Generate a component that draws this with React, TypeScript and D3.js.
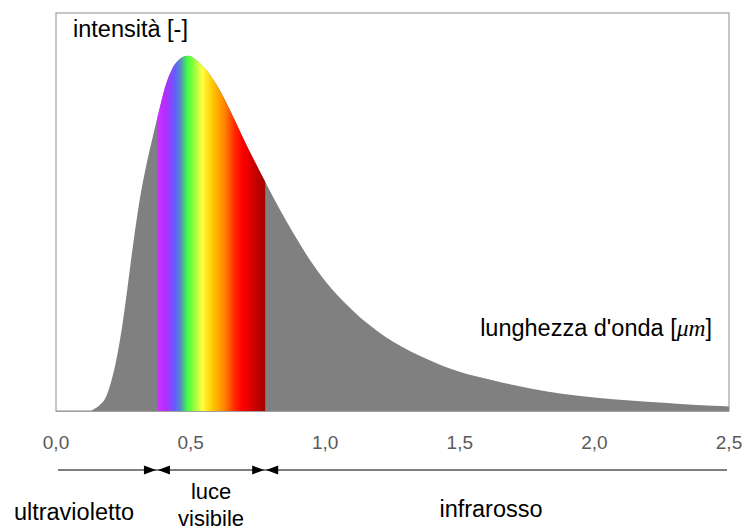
import React from "react";
import * as d3 from "d3";

// wavelength [µm]
const wavelengths = [
  0.0, 0.13, 0.14, 0.16, 0.186, 0.204, 0.223, 0.248, 0.266, 0.285, 0.31, 0.335,
  0.359, 0.378, 0.409, 0.446, 0.489, 0.533, 0.595, 0.644, 0.694, 0.743, 0.777,
  0.833, 0.882, 0.944, 1.006, 1.068, 1.13, 1.192, 1.254, 1.316, 1.378, 1.44,
  1.502, 1.564, 1.626, 1.7, 1.824, 1.948, 2.07, 2.196, 2.32, 2.44, 2.5,
];
// relative intensity [%]
const intensities = [
  0, 0, 0.5, 1.5, 4, 8, 14, 25, 35, 46, 59, 69, 77, 83, 92, 98, 100, 98, 92, 85,
  77, 69.5, 64.5, 56.5, 50, 42.4, 36, 30.8, 26.3, 22.6, 19.4, 16.8, 14.6, 12.6,
  11, 9.7, 8.6, 7.3, 5.5, 4.2, 3.3, 2.6, 2.0, 1.5, 1.3,
];
const xTicks = [0, 0.5, 1.0, 1.5, 2.0, 2.5];
const visibleRange = [0.375, 0.777];
const spectrumStops = [
  { offset: 0, color: "#cc33ff" },
  { offset: 0.08, color: "#b32cff" },
  { offset: 0.17, color: "#6060ff" },
  { offset: 0.22, color: "#5590c0" },
  { offset: 0.28, color: "#40ff40" },
  { offset: 0.34, color: "#90ff40" },
  { offset: 0.42, color: "#ffff40" },
  { offset: 0.52, color: "#ffc400" },
  { offset: 0.63, color: "#ff8000" },
  { offset: 0.72, color: "#ff2800" },
  { offset: 0.79, color: "#ff0000" },
  { offset: 0.9, color: "#cc0000" },
  { offset: 1, color: "#a00000" },
];
const regionLabels = ["ultravioletto", "luce", "visibile", "infrarosso"];

export default function App() {
  const W = 745;
  const H = 531;
  const x = d3.scaleLinear().domain([0, 2.5]).range([56, 729]);
  const y = d3.scaleLinear().domain([0, 112]).range([411, 13]);
  const data = wavelengths.map((w, i) => ({ w, v: intensities[i] }));
  const area = d3
    .area<{ w: number; v: number }>()
    .x((d) => x(d.w))
    .y0(y(0))
    .y1((d) => y(d.v))
    .curve(d3.curveMonotoneX);
  const areaPath = area(data) || "";
  const fmt = (v: number) => d3.format(".1f")(v).replace(".", ",");
  const font = "Arial, 'Liberation Sans', sans-serif";
  const xa = x(visibleRange[0]);
  const xb = x(visibleRange[1]);
  const ay = 470;
  const tri = (tip: number, dir: number) =>
    `M${tip},${ay} L${tip - dir * 12},${ay - 4.5} L${tip - dir * 12},${ay + 4.5} Z`;

  return (
    <div style={{ position: "absolute", left: 0, top: 0 }}>
      <svg width={W} height={H} style={{ display: "block", background: "#fff" }}>
        <defs>
          <clipPath id="curveClip">
            <path d={areaPath} />
          </clipPath>
          <linearGradient
            id="spectrum"
            gradientUnits="userSpaceOnUse"
            x1={xa}
            x2={xb}
            y1={0}
            y2={0}
          >
            {spectrumStops.map((s, i) => (
              <stop key={i} offset={s.offset} stopColor={s.color} />
            ))}
          </linearGradient>
        </defs>
        <rect x={56} y={13} width={673} height={398} fill="#fff" stroke="#a0a0a0" strokeWidth={1.2} />
        <path d={areaPath} fill="#808080" />
        <rect
          x={xa}
          y={y(112)}
          width={xb - xa}
          height={y(0) - y(112)}
          fill="url(#spectrum)"
          clipPath="url(#curveClip)"
        />
        <line x1={56} x2={729} y1={411.5} y2={411.5} stroke="#a0a0a0" strokeWidth={1.2} />
        <text x={73} y={37} fontFamily={font} fontSize={23.5} fill="#000">
          intensità [-]
        </text>
        <text x={712} y={336} fontFamily={font} fontSize={23.5} fill="#000" textAnchor="end">
          lunghezza d'onda [
          <tspan fontFamily="'Liberation Serif', 'DejaVu Serif', serif" fontStyle="italic">
            μm
          </tspan>
          ]
        </text>
        {xTicks.map((t) => (
          <text
            key={t}
            x={x(t)}
            y={449}
            fontFamily={font}
            fontSize={19}
            fill="#5a5a5a"
            textAnchor="middle"
          >
            {fmt(t)}
          </text>
        ))}
        <line x1={58} x2={727} y1={ay} y2={ay} stroke="#000" strokeWidth={1.2} />
        <path d={tri(xa - 1, 1)} fill="#000" />
        <path d={tri(xa + 1, -1)} fill="#000" />
        <path d={tri(xb - 1, 1)} fill="#000" />
        <path d={tri(xb + 1, -1)} fill="#000" />
        <text x={(12 + 136) / 2} y={520} fontFamily={font} fontSize={23.5} textAnchor="middle">
          {regionLabels[0]}
        </text>
        <text x={(xa + xb) / 2} y={499} fontFamily={font} fontSize={22} textAnchor="middle">
          {regionLabels[1]}
        </text>
        <text x={(xa + xb) / 2} y={526} fontFamily={font} fontSize={22} textAnchor="middle">
          {regionLabels[2]}
        </text>
        <text x={491} y={517} fontFamily={font} fontSize={23.5} textAnchor="middle">
          {regionLabels[3]}
        </text>
      </svg>
    </div>
  );
}
